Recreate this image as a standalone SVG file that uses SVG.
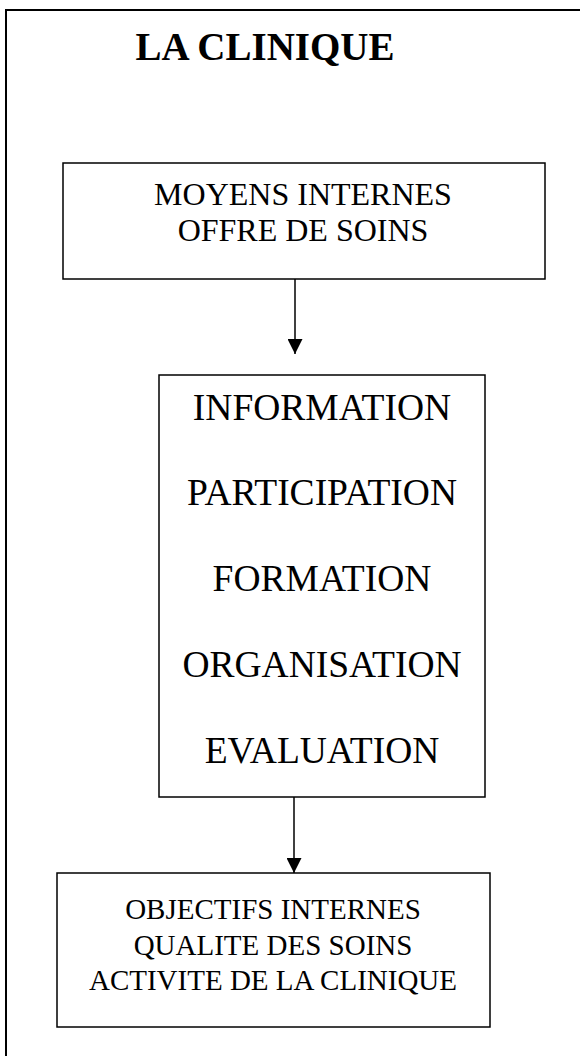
<svg xmlns="http://www.w3.org/2000/svg" width="580" height="1056" viewBox="0 0 580 1056">
  <style>
    .box { fill: #fff; stroke: #000; stroke-width: 1.5; }
    .frame { fill: none; stroke: #000; stroke-width: 2; }
    .txt { font-family: "Liberation Serif", "Times New Roman", serif; fill: #000; text-anchor: middle; }
    .title { font-size: 39px; font-weight: bold; }
    .s1 { font-size: 32px; }
    .s2 { font-size: 37.5px; }
    .s3 { font-size: 29px; }
    .edge { stroke: #000; stroke-width: 1.5; fill: none; }
  </style>
  <defs>
    <!-- filled arrowhead, tip at the end of the line -->
    <marker id="arrow" viewBox="0 0 15 15" refX="15" refY="7.5" markerWidth="15" markerHeight="15" markerUnits="userSpaceOnUse" orient="auto">
      <path d="M0,0 L15,7.5 L0,15 Z" fill="#000"/>
    </marker>
  </defs>

  <rect width="580" height="1056" fill="#fff"/>

  <!-- outer page frame -->
  <path class="frame" d="M6,1060 L6,10 L590,10"/>

  <g id="title">
    <text class="txt title" x="265" y="60">LA CLINIQUE</text>
  </g>

  <g id="moyens">
    <rect class="box" x="63" y="163" width="482" height="116"/>
    <text class="txt s1" x="303" y="205">MOYENS INTERNES</text>
    <text class="txt s1" x="303" y="241">OFFRE DE SOINS</text>
  </g>

  <g id="leviers">
    <rect class="box" x="159" y="375" width="326" height="422"/>
    <text class="txt s2" x="322" y="420">INFORMATION</text>
    <text class="txt s2" x="322" y="505">PARTICIPATION</text>
    <text class="txt s2" x="322" y="591">FORMATION</text>
    <text class="txt s2" x="322" y="677">ORGANISATION</text>
    <text class="txt s2" x="322" y="763">EVALUATION</text>
  </g>

  <g id="objectifs">
    <rect class="box" x="57" y="873" width="433" height="154"/>
    <text class="txt s3" x="273" y="919">OBJECTIFS INTERNES</text>
    <text class="txt s3" x="273" y="955">QUALITE DES SOINS</text>
    <text class="txt s3" x="273" y="990">ACTIVITE DE LA CLINIQUE</text>
  </g>

  <g id="connectors">
    <line class="edge" x1="295" y1="279" x2="295" y2="354" marker-end="url(#arrow)"/>
    <line class="edge" x1="294" y1="797" x2="294" y2="873" marker-end="url(#arrow)"/>
  </g>
</svg>
